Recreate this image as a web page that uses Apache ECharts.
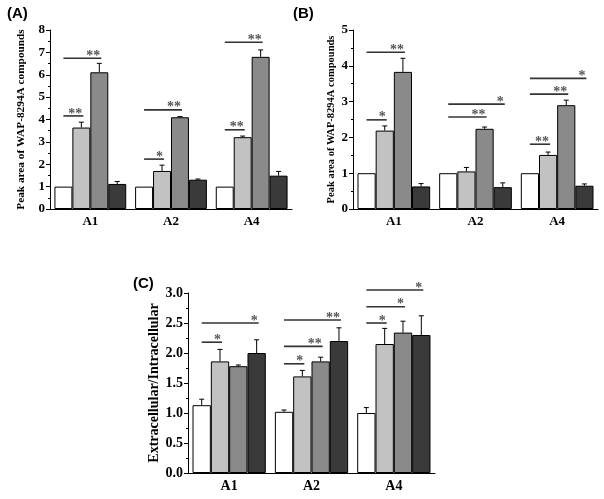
<!DOCTYPE html>
<html><head><meta charset="utf-8">
<script src="https://cdn.jsdelivr.net/npm/echarts@6/dist/echarts.min.js"></script>
<style>html,body{margin:0;padding:0;background:#fff}#c{width:604px;height:499px}</style>
</head><body><div id="c"></div>
<script>
// ---- data ----
const categories = ['A1', 'A2', 'A4'];
// Panel A
const aS1 = [1, 1, 1];
const aS2 = [3.64, 1.70, 3.21];
const aS3 = [6.11, 4.10, 6.80];
const aS4 = [1.12, 1.31, 1.49];
const aE1 = [0, 0, 0];
const aE2 = [0.24, 0.26, 0.05];
const aE3 = [0.40, 0.03, 0.31];
const aE4 = [0.11, 0.03, 0.19];
// Panel B
const bS1 = [1, 1, 1];
const bS2 = [2.19, 1.05, 1.51];
const bS3 = [3.83, 2.24, 2.90];
const bS4 = [0.63, 0.61, 0.65];
const bE1 = [0, 0, 0];
const bE2 = [0.13, 0.11, 0.08];
const bE3 = [0.38, 0.05, 0.14];
const bE4 = [0.08, 0.12, 0.05];
// Panel C
const cS1 = [1.13, 1.02, 1.00];
const cS2 = [1.86, 1.61, 2.15];
const cS3 = [1.78, 1.86, 2.34];
const cS4 = [2.00, 2.20, 2.30];
const cE1 = [0.10, 0.03, 0.09];
const cE2 = [0.20, 0.10, 0.26];
const cE3 = [0.02, 0.07, 0.19];
const cE4 = [0.22, 0.22, 0.32];
// significance marks: [category, fromBar, toBar, level, label]
const sigA = [[0,0,1,4.16,'**'],[0,0,2,6.74,'**'],[1,0,1,2.23,'*'],[1,0,2,4.43,'**'],[2,0,1,3.54,'**'],[2,0,2,7.45,'**']];
const sigB = [[0,0,1,2.49,'*'],[0,0,2,4.38,'**'],[1,0,2,2.57,'**'],[1,0,3,2.93,'*'],[2,0,1,1.81,'**'],[2,0,2,3.21,'**'],[2,0,3,3.65,'*']];
const sigC = [[0,0,1,2.18,'*'],[0,0,3,2.50,'*'],[1,0,1,1.82,'*'],[1,0,2,2.11,'**'],[1,0,3,2.55,'**'],[2,0,1,2.50,'*'],[2,0,2,2.77,'*'],[2,0,3,3.05,'*']];
const yTicksA = {min: 0, max: 8, interval: 1};
const yTicksB = {min: 0, max: 5, interval: 1};
const yTicksC = {min: 0, max: 3, interval: 0.5};

// ---- styles ----
const barColors = ['#ffffff', '#c2c2c2', '#8a8a8a', '#3a3a3a'];
const GAP = 0.11;
const serif = '"Liberation Serif", "DejaVu Serif", serif';

function barCenter(api, cat, idx) {
  const c = api.coord([cat, 0]);
  const band = api.size([1, 0])[0];
  const bw = band * (1 - GAP) / 4;
  return c[0] + (idx - 1.5) * bw;
}

function barSeries(gi, vals) {
  return vals.map((v, i) => ({
    type: 'bar', xAxisIndex: gi * 2, yAxisIndex: gi, data: v,
    barGap: '0%', barCategoryGap: (GAP * 100) + '%',
    itemStyle: {color: barColors[i], borderColor: '#000', borderWidth: 1},
    silent: true
  }));
}

function errSeries(gi, vals, errs) {
  const data = [];
  vals.forEach((v, i) => v.forEach((y, c) => { if (errs[i][c] > 0) data.push([c, y, errs[i][c], i]); }));
  return {
    type: 'custom', xAxisIndex: gi * 2, yAxisIndex: gi, data: data, z: 3, silent: true,
    renderItem: function (params, api) {
      const cat = api.value(0), y = api.value(1), e = api.value(2), idx = api.value(3);
      const x = barCenter(api, cat, idx);
      const p0 = api.coord([cat, y]), p1 = api.coord([cat, y + e]);
      return {type: 'group', children: [
        {type: 'line', shape: {x1: x, y1: p0[1], x2: x, y2: p1[1]}, style: {stroke: '#000', lineWidth: 1}},
        {type: 'line', shape: {x1: x - 2.5, y1: p1[1], x2: x + 2.5, y2: p1[1]}, style: {stroke: '#000', lineWidth: 1}}
      ]};
    }
  };
}

function sigSeries(gi, sig, fs) {
  return {
    type: 'custom', xAxisIndex: gi * 2, yAxisIndex: gi, z: 4, silent: true,
    data: sig.map(s => [s[0], s[3]]),
    renderItem: function (params, api) {
      const s = sig[params.dataIndex];
      const x1 = barCenter(api, s[0], s[1]);
      const x2 = barCenter(api, s[0], s[2]) + 2;
      const py = api.coord([s[0], s[3]])[1];
      return {type: 'group', children: [
        {type: 'line', shape: {x1: x1, y1: py, x2: x2, y2: py}, style: {stroke: '#333', lineWidth: 1.6}},
        {type: 'text', x: x2 - 1, y: py + 5, style: {text: s[4], fill: '#555', font: 'bold ' + fs + 'px ' + serif, textAlign: 'right', textVerticalAlign: 'bottom'}}
      ]};
    }
  };
}

const grids = [
  {left: 50, right: 312, top: 30, bottom: 290},
  {left: 353, right: 6, top: 30, bottom: 290},
  {left: 188, right: 169, top: 293, bottom: 26}
];

function xAxes(gi, fs) {
  return [
    {type: 'category', gridIndex: gi, data: categories, position: 'bottom',
     axisLine: {lineStyle: {color: '#000', width: 1}},
     axisTick: {alignWithLabel: true, length: 4, lineStyle: {color: '#000'}},
     axisLabel: {color: '#000', fontFamily: serif, fontWeight: 'bold', fontSize: fs, margin: 6},
     splitLine: {show: false}},
    {type: 'category', gridIndex: gi, data: categories, position: 'bottom',
     axisLine: {show: false}, axisLabel: {show: false},
     axisTick: {length: 2, lineStyle: {color: '#000'}}, splitLine: {show: false}}
  ];
}

function yAxis(gi, t, name, fs, nfs, gap, dec) {
  return {
    type: 'value', gridIndex: gi, min: t.min, max: t.max, interval: t.interval,
    name: name, nameLocation: 'middle', nameGap: gap,
    nameTextStyle: {fontFamily: serif, fontWeight: 'bold', fontSize: nfs, color: '#000'},
    axisLine: {show: true, lineStyle: {color: '#000', width: 1}},
    axisTick: {show: true, length: 4, lineStyle: {color: '#000'}},
    minorTick: {show: true, splitNumber: 2, length: 2, lineStyle: {color: '#000'}},
    axisLabel: {color: '#000', fontFamily: serif, fontWeight: 'bold', fontSize: fs, margin: 5,
      formatter: v => dec ? v.toFixed(1) : String(v)},
    splitLine: {show: false}
  };
}

const option = {
  animation: false,
  backgroundColor: '#fff',
  grid: grids,
  xAxis: [].concat(xAxes(0, 13), xAxes(1, 13), xAxes(2, 14)),
  yAxis: [
    yAxis(0, yTicksA, 'Peak area of WAP-8294A compounds', 13, 11.3, 23, false),
    yAxis(1, yTicksB, 'Peak area of WAP-8294A compounds', 13, 10.5, 16, false),
    yAxis(2, yTicksC, 'Extracellular/Intracellular', 14, 14, 27, true)
  ],
  graphic: [
    {type: 'text', left: 7, top: 6, style: {text: '(A)', font: 'bold 15px "Liberation Sans", Arial, sans-serif', fill: '#000'}},
    {type: 'text', left: 293, top: 6, style: {text: '(B)', font: 'bold 15px "Liberation Sans", Arial, sans-serif', fill: '#000'}},
    {type: 'text', left: 133, top: 276, style: {text: '(C)', font: 'bold 15px "Liberation Sans", Arial, sans-serif', fill: '#000'}}
  ],
  series: [].concat(
    barSeries(0, [aS1, aS2, aS3, aS4]), [errSeries(0, [aS1, aS2, aS3, aS4], [aE1, aE2, aE3, aE4]), sigSeries(0, sigA, 14)],
    barSeries(1, [bS1, bS2, bS3, bS4]), [errSeries(1, [bS1, bS2, bS3, bS4], [bE1, bE2, bE3, bE4]), sigSeries(1, sigB, 14)],
    barSeries(2, [cS1, cS2, cS3, cS4]), [errSeries(2, [cS1, cS2, cS3, cS4], [cE1, cE2, cE3, cE4]), sigSeries(2, sigC, 14)]
  )
};
const chart = echarts.init(document.getElementById('c'), null, {renderer: 'canvas'});
chart.setOption(option);
</script></body></html>
